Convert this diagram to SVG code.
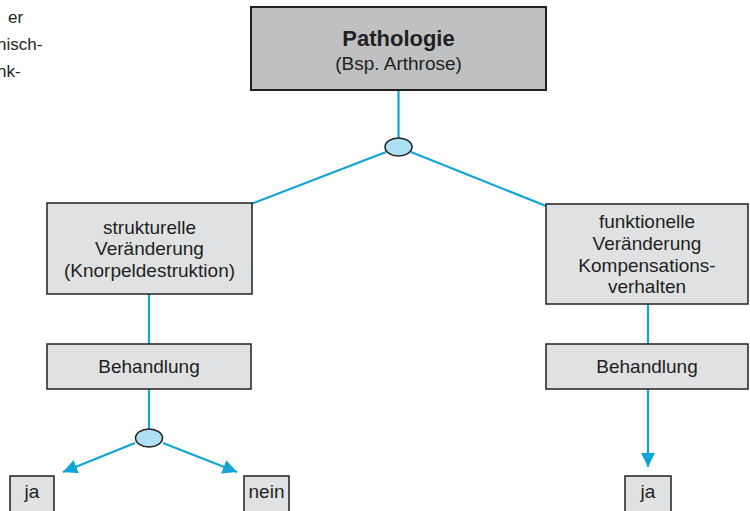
<svg xmlns="http://www.w3.org/2000/svg" width="750" height="511" viewBox="0 0 750 511">
<defs>
<style>
text{font-family:"Liberation Sans",Arial,sans-serif;font-size:19px;fill:#231f20;text-anchor:middle}
.box{fill:#e0e1e3;stroke:#231f20;stroke-width:1.5}
.top{fill:#bfc0c2;stroke:#231f20;stroke-width:2}
.con{stroke:#10a5d6;stroke-width:2.2;fill:none}
.oval{fill:#ade0f2;stroke:#231f20;stroke-width:1.5}
.side{text-anchor:start;font-size:17px}
</style>
<marker id="ah" viewBox="0 0 10 10" refX="10" refY="5" markerWidth="6.5" markerHeight="6.5" orient="auto" markerUnits="strokeWidth">
<path d="M0,0 L10,5 L0,10 z" fill="#10a5d6"/>
</marker>
</defs>
<rect width="750" height="511" fill="#fff"/>
<g id="sidetext">
<text class="side" x="8" y="23">er</text>
<text class="side" x="-3" y="50">nisch-</text>
<text class="side" x="-3" y="77">nk-</text>
</g>
<g id="connectors">
<line class="con" x1="398.5" y1="90" x2="398.5" y2="138"/>
<line class="con" x1="386" y1="152" x2="251" y2="204"/>
<line class="con" x1="411" y1="152" x2="546" y2="206"/>
<line class="con" x1="149" y1="294" x2="149" y2="344"/>
<line class="con" x1="648" y1="304" x2="648" y2="344"/>
<line class="con" x1="149" y1="389" x2="149" y2="429"/>
<line class="con" x1="135" y1="443" x2="63" y2="472" marker-end="url(#ah)"/>
<line class="con" x1="163" y1="443" x2="237" y2="472" marker-end="url(#ah)"/>
<line class="con" x1="648" y1="389" x2="648" y2="467" marker-end="url(#ah)"/>
</g>
<g id="pathologie">
<rect class="top" x="251" y="7" width="295" height="83"/>
<text x="398.5" y="46" style="font-weight:bold;font-size:22px">Pathologie</text>
<text x="398.5" y="70">(Bsp. Arthrose)</text>
</g>
<g id="junction-top">
<ellipse class="oval" cx="398.5" cy="147" rx="13.5" ry="9"/>
</g>
<g id="strukturelle">
<rect class="box" x="47" y="203" width="205" height="91"/>
<text x="149.5" y="233.5">strukturelle</text>
<text x="149.5" y="255">Veränderung</text>
<text x="149.5" y="276.5">(Knorpeldestruktion)</text>
</g>
<g id="funktionelle">
<rect class="box" x="546" y="204" width="202" height="100"/>
<text x="647" y="228">funktionelle</text>
<text x="647" y="250">Veränderung</text>
<text x="647" y="271.5">Kompensations-</text>
<text x="647" y="293">verhalten</text>
</g>
<g id="behandlung-left">
<rect class="box" x="47" y="344" width="204" height="45"/>
<text x="149" y="373">Behandlung</text>
</g>
<g id="behandlung-right">
<rect class="box" x="546" y="344" width="202" height="45"/>
<text x="647" y="373">Behandlung</text>
</g>
<g id="junction-left">
<ellipse class="oval" cx="149" cy="438" rx="13.5" ry="9"/>
</g>
<g id="ja-left">
<rect class="box" x="10" y="476" width="44" height="40"/>
<text x="32" y="498">ja</text>
</g>
<g id="nein">
<rect class="box" x="244" y="476" width="45" height="40"/>
<text x="266.5" y="498">nein</text>
</g>
<g id="ja-right">
<rect class="box" x="625" y="476" width="46" height="40"/>
<text x="648" y="498">ja</text>
</g>
</svg>
